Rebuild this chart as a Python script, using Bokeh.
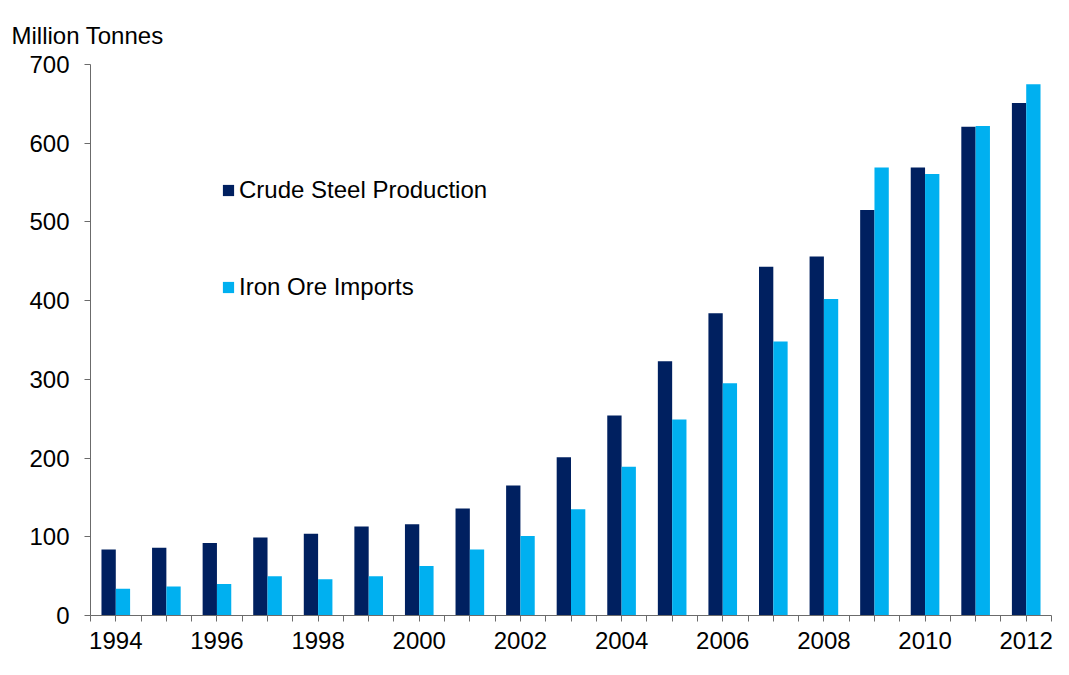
from bokeh.plotting import figure
from bokeh.models import (FixedTicker, CustomJSTickFormatter, Legend, LegendItem,
                          Range1d, ColumnDataSource)
from bokeh.transform import dodge
from bokeh.embed import file_html
from bokeh.resources import INLINE

years = [1994, 1995, 1996, 1997, 1998, 1999, 2000, 2001, 2002, 2003,
         2004, 2005, 2006, 2007, 2008, 2009, 2010, 2011, 2012]
crude_steel = [84, 86, 92, 99, 104, 113, 116, 136, 165, 201,
               254, 323, 384, 443, 456, 515, 569, 621, 651]
iron_ore = [34, 37, 40, 50, 46, 50, 63, 84, 101, 135,
            189, 249, 295, 348, 402, 569, 561, 622, 675]
label_years = [1994, 1996, 1998, 2000, 2002, 2004, 2006, 2008, 2010, 2012]
y_ticks = [0, 100, 200, 300, 400, 500, 600, 700]

FONT = "Liberation Sans"
FS = "24px"
DARK = "#002060"
LIGHT = "#00B0F0"
AXIS = "#6b6b6b"

src = ColumnDataSource(dict(year=years, steel=crude_steel, ore=iron_ore))

p = figure(width=1053, height=659, output_backend="svg", toolbar_location=None,
           x_range=Range1d(years[0] - 0.5, years[-1] + 0.5),
           y_range=Range1d(0, 700),
           min_border_left=90, min_border_right=2, min_border_top=64,
           min_border_bottom=44)
p.outline_line_color = None
p.xgrid.grid_line_color = None
p.ygrid.grid_line_color = None
p.background_fill_color = "white"
p.border_fill_color = "white"

p.title.text = "Million Tonnes"
p.title.align = "left"
p.title.offset = -79
p.title.standoff = 32
p.title.text_font = FONT
p.title.text_font_size = FS
p.title.text_font_style = "normal"
p.title.text_color = "#000000"

w = 0.283
r1 = p.vbar(x=dodge("year", -w / 2, range=p.x_range), top="steel", width=w, source=src,
            fill_color=DARK, line_color=None)
r2 = p.vbar(x=dodge("year", w / 2, range=p.x_range), top="ore", width=w, source=src,
            fill_color=LIGHT, line_color=None)

# x axis
minor = [y for y in years if y not in label_years]
minor += [y + 0.5 for y in years] + [years[0] - 0.5]
p.xaxis.ticker = FixedTicker(ticks=label_years, minor_ticks=sorted(minor))
p.xaxis.major_tick_out = 6
p.xaxis.major_tick_in = 0
p.xaxis.minor_tick_out = 6
p.xaxis.minor_tick_in = 0
p.xaxis.axis_line_color = AXIS
p.xaxis.major_tick_line_color = AXIS
p.xaxis.minor_tick_line_color = AXIS
p.xaxis.major_label_text_font = FONT
p.xaxis.major_label_text_font_size = FS
p.xaxis.major_label_text_color = "#000000"
p.xaxis.major_label_standoff = 10
p.xaxis.formatter = CustomJSTickFormatter(code="return tick.toFixed(0);")

# y axis
p.yaxis.ticker = FixedTicker(ticks=y_ticks, minor_ticks=[])
p.yaxis.major_tick_out = 6
p.yaxis.major_tick_in = 0
p.yaxis.minor_tick_line_color = None
p.yaxis.axis_line_color = AXIS
p.yaxis.major_tick_line_color = AXIS
p.yaxis.major_label_text_font = FONT
p.yaxis.major_label_text_font_size = FS
p.yaxis.major_label_text_color = "#000000"
p.yaxis.major_label_standoff = 15

legend = Legend(items=[LegendItem(label="Crude Steel Production", renderers=[r1]),
                       LegendItem(label="Iron Ore Imports", renderers=[r2])],
                location=(131, 314), orientation="vertical",
                glyph_width=14, glyph_height=14, label_height=24,
                label_standoff=4, spacing=69, padding=0, margin=0,
                border_line_color=None, background_fill_alpha=0,
                label_text_font=FONT, label_text_font_size=FS,
                label_text_color="#000000")
p.add_layout(legend)

open("out.html", "w").write(file_html(p, INLINE))
